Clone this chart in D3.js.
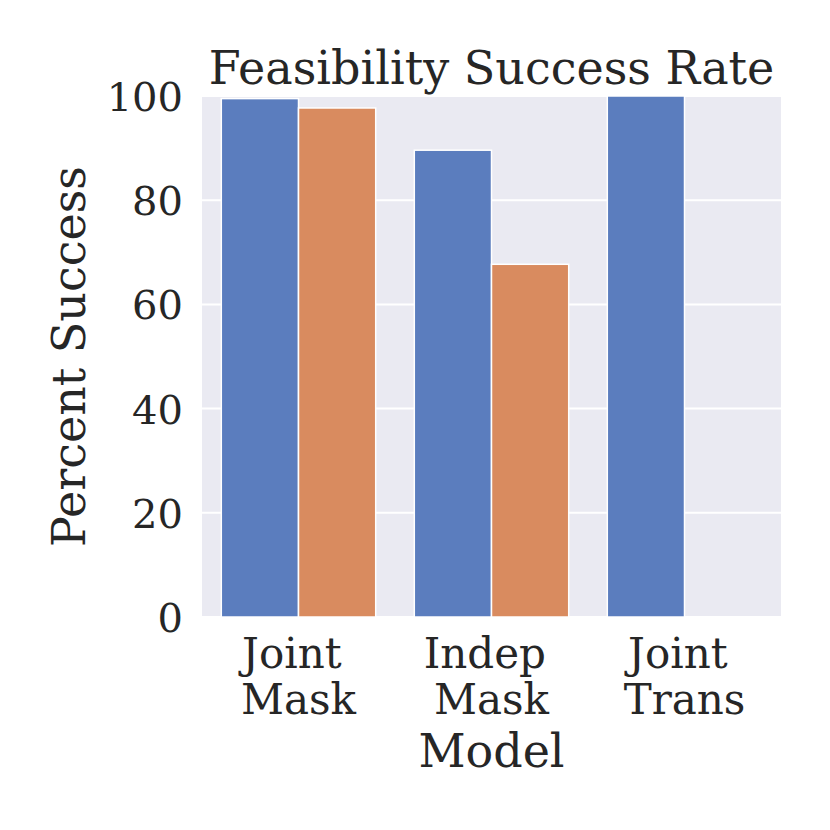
<!DOCTYPE html>
<html>
<head>
<meta charset="utf-8">
<script src="https://cdn.jsdelivr.net/npm/d3@7"></script>
<style>
  body { margin: 0; background: #ffffff; }
  text { font-family: "DejaVu Serif", serif; fill: #262626; }
  tspan { white-space: pre; }
</style>
</head>
<body>
<div id="container"></div>
<script>
// chart data
var models = ["Joint \nMask", "Indep \nMask", "Joint \nTrans"];
var hues = ["first", "second"];
var firstValues = [99.5, 89.6, 100];
var secondValues = [97.7, 67.7, null]; // no bar for Joint Trans
var yTicks = [0, 20, 40, 60, 80, 100];
var colors = ["#5b7dbe", "#d98b5f"];

var width = 830, height = 830;
var plot = {left: 202, right: 781, top: 96, bottom: 617};

var svg = d3.select("#container")
    .append("svg")
        .attr("width", width)
        .attr("height", height);

var x = d3.scaleBand()
    .domain(models)
    .range([plot.left, plot.right])
    .paddingInner(0)
    .paddingOuter(0);

// seaborn style: group takes 80% of the band
var xHue = d3.scaleBand()
    .domain(hues)
    .range([x.bandwidth() * 0.1, x.bandwidth() * 0.9]);

var y = d3.scaleLinear()
    .domain([0, 100])
    .range([plot.bottom, plot.top]);

// background
svg.append("rect")
    .attr("x", plot.left)
    .attr("y", plot.top)
    .attr("width", plot.right - plot.left)
    .attr("height", plot.bottom - plot.top)
    .attr("fill", "#eaeaf2");

// grid lines
svg.selectAll("line.grid")
    .data(yTicks)
    .enter()
    .append("line")
        .attr("class", "grid")
        .attr("x1", plot.left)
        .attr("x2", plot.right)
        .attr("y1", function(d){ return y(d); })
        .attr("y2", function(d){ return y(d); })
        .attr("stroke", "#ffffff")
        .attr("stroke-width", 2);

// bars
var rows = [];
models.forEach(function(m, i) {
    rows.push({model: m, hue: "first", value: firstValues[i]});
    rows.push({model: m, hue: "second", value: secondValues[i]});
});

svg.selectAll("rect.bar")
    .data(rows.filter(function(d){ return d.value != null; }))
    .enter()
    .append("rect")
        .attr("class", "bar")
        .attr("x", function(d){ return x(d.model) + xHue(d.hue); })
        .attr("y", function(d){ return y(d.value); })
        .attr("width", xHue.bandwidth())
        .attr("height", function(d){ return y(0) - y(d.value); })
        .attr("fill", function(d){ return colors[hues.indexOf(d.hue)]; })
        .attr("stroke", "#ffffff")
        .attr("stroke-width", 1.5);

// y axis tick labels
var yAxis = d3.axisLeft(y).tickValues(yTicks).tickSize(0).tickPadding(19);
var yg = svg.append("g")
    .attr("transform", "translate(" + plot.left + ",0)")
    .call(yAxis);
yg.select(".domain").remove();
yg.selectAll("text")
    .attr("font-size", "40px")
    .attr("fill", "#262626")
    .attr("dy", "0.36em");

// x axis tick labels (two lines, first line keeps its trailing space)
var xAxis = d3.axisBottom(x).tickSize(0).tickFormat("");
var xg = svg.append("g")
    .attr("transform", "translate(0," + plot.bottom + ")")
    .call(xAxis);
xg.select(".domain").remove();
xg.selectAll(".tick").each(function(d) {
    var t = d3.select(this).append("text")
        .attr("text-anchor", "middle")
        .attr("font-size", "42px")
        .attr("fill", "#262626");
    d.split("\n").forEach(function(line, i) {
        t.append("tspan")
            .attr("x", 0)
            .attr("y", 51 + i * 46)
            .text(line);
    });
});

// axis titles
svg.append("text")
    .attr("x", (plot.left + plot.right) / 2)
    .attr("y", 767)
    .attr("text-anchor", "middle")
    .attr("font-size", "46px")
    .text("Model");

svg.append("text")
    .attr("transform", "translate(85," + ((plot.top + plot.bottom) / 2) + ") rotate(-90)")
    .attr("text-anchor", "middle")
    .attr("font-size", "46px")
    .text("Percent Success");

// title
svg.append("text")
    .attr("x", (plot.left + plot.right) / 2)
    .attr("y", 84)
    .attr("text-anchor", "middle")
    .attr("font-size", "46px")
    .text("Feasibility Success Rate");
</script>
</body>
</html>
